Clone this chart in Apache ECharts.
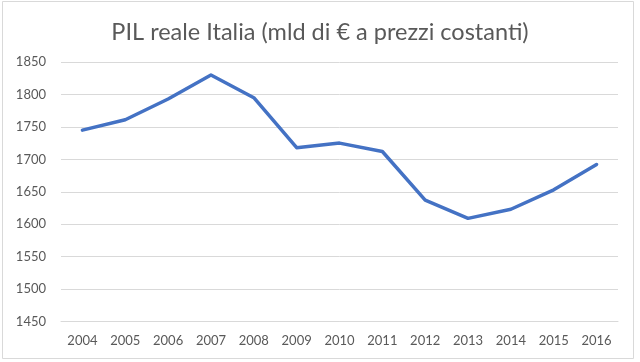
<!DOCTYPE html>
<html>
<head>
<meta charset="utf-8">
<script src="https://cdn.jsdelivr.net/npm/echarts@6/dist/echarts.min.js"></script>
<style>
html,body{margin:0;padding:0;background:#fff;}
#c{width:640px;height:362px;}
</style>
</head>
<body>
<div id="c"></div>
<script>
const years = ['2004','2005','2006','2007','2008','2009','2010','2011','2012','2013','2014','2015','2016'];
const pil = [1745, 1761, 1793, 1830, 1795, 1718, 1725, 1712, 1637, 1609, 1623, 1653, 1692];
const yMin = 1450, yMax = 1850, yStep = 50;
const titleText = 'PIL reale Italia (mld di € a prezzi costanti)';

const chart = echarts.init(document.getElementById('c'), null, {renderer:'canvas'});
chart.setOption({
  animation: false,
  backgroundColor: '#fff',
  title: {
    text: titleText,
    left: 'center',
    top: 15,
    textStyle: {fontFamily: 'Lato', fontSize: 23.5, fontWeight: 'normal', color: '#595959'}
  },
  graphic: [{
    type: 'rect',
    shape: {x: 2.5, y: 1.5, width: 631, height: 357},
    style: {fill: 'none', stroke: '#d9d9d9', lineWidth: 1},
    silent: true
  }],
  grid: {left: 61, right: 22, top: 62, bottom: 40.5, containLabel: false},
  xAxis: {
    type: 'category',
    data: years,
    boundaryGap: true,
    axisLine: {show: true, lineStyle: {color: '#d9d9d9', width: 1}},
    axisTick: {show: false},
    axisLabel: {fontFamily: 'Lato', fontSize: 13, color: '#595959', margin: 13}
  },
  yAxis: {
    type: 'value',
    min: yMin, max: yMax, interval: yStep,
    axisLine: {show: false},
    axisTick: {show: false},
    splitLine: {lineStyle: {color: '#d9d9d9', width: 1}},
    axisLabel: {fontFamily: 'Lato', fontSize: 13, color: '#595959', margin: 15,
      formatter: v => String(v)}
  },
  series: [{
    type: 'line',
    data: pil,
    symbol: 'none',
    lineStyle: {color: '#4472C4', width: 3.5, cap: 'round', join: 'round'}
  }]
});
</script>
</body>
</html>
